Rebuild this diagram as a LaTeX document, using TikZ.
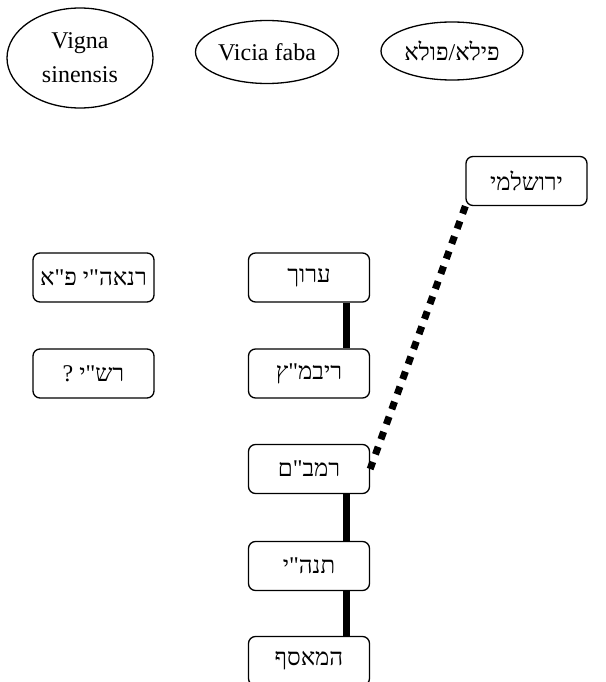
\documentclass[tikz,border=0pt]{standalone}
\usepackage{fontspec}
\usetikzlibrary{shapes.geometric}
\setmainfont{Liberation Serif}
\newfontfamily\hebfont[Script=Hebrew]{Liberation Serif}
\TeXXeTstate=1
\newcommand{\heb}[1]{{\hebfont\beginR #1\endR}}

\tikzset{
	plantname/.style={draw, ellipse, line width=1.3pt, inner sep=0pt, align=center, font=\fontsize{24}{34}\selectfont},
	sourcebox/.style={draw, rounded corners=7pt, line width=1.3pt, minimum width=121pt, minimum height=49pt, inner sep=0pt, font=\fontsize{24}{28}\selectfont},
	solidlink/.style={line width=7pt},
	dottedlink/.style={line width=7pt, dash pattern=on 8pt off 8pt}
}

\begin{document}
\begin{tikzpicture}[x=1pt,y=-1pt]
			\useasboundingbox (0,0) rectangle (605,682);
			% top row: names
			\node[plantname, minimum width=146pt, minimum height=100pt] (vigna) at (80,58) {Vigna\\sinensis};
			\node[plantname, minimum width=143pt, minimum height=63pt] (vicia) at (267,52) {Vicia faba};
			\node[plantname, minimum width=142pt, minimum height=58pt] (pila) at (452,51) {\heb{פילא/פולא}};
			% sources
			\node[sourcebox] (rnaa) at (93.5,277.5) {\heb{רנאה"י פ"א}};
			\node[sourcebox] (rashi) at (93.5,373.5) {\heb{רש"י ?}};
			\node[sourcebox] (arukh) at (309,277.5) {\heb{ערוך}};
			\node[sourcebox] (ribmatz) at (309,373.5) {\heb{ריבמ"ץ}};
			\node[sourcebox] (rambam) at (309,469) {\heb{רמב"ם}};
			\node[sourcebox] (tanhi) at (309,566) {\heb{תנה"י}};
			\node[sourcebox] (measef) at (309,661) {\heb{המאסף}};
			\node[sourcebox] (yerushalmi) at (526.5,181) {\heb{ירושלמי}};
			% links
			\draw[solidlink] ([xshift=37pt]arukh.south) -- ([xshift=37pt]ribmatz.north);
			\draw[solidlink] ([xshift=37pt]rambam.south) -- ([xshift=37pt]tanhi.north);
			\draw[solidlink] ([xshift=37pt]tanhi.south) -- ([xshift=37pt]measef.north);
			\draw[dottedlink] (yerushalmi.south west) -- (rambam.east);
%			\draw[dottedlink] (yerushalmi.south) -- (rambam.north);
	\end{tikzpicture}
\end{document}
